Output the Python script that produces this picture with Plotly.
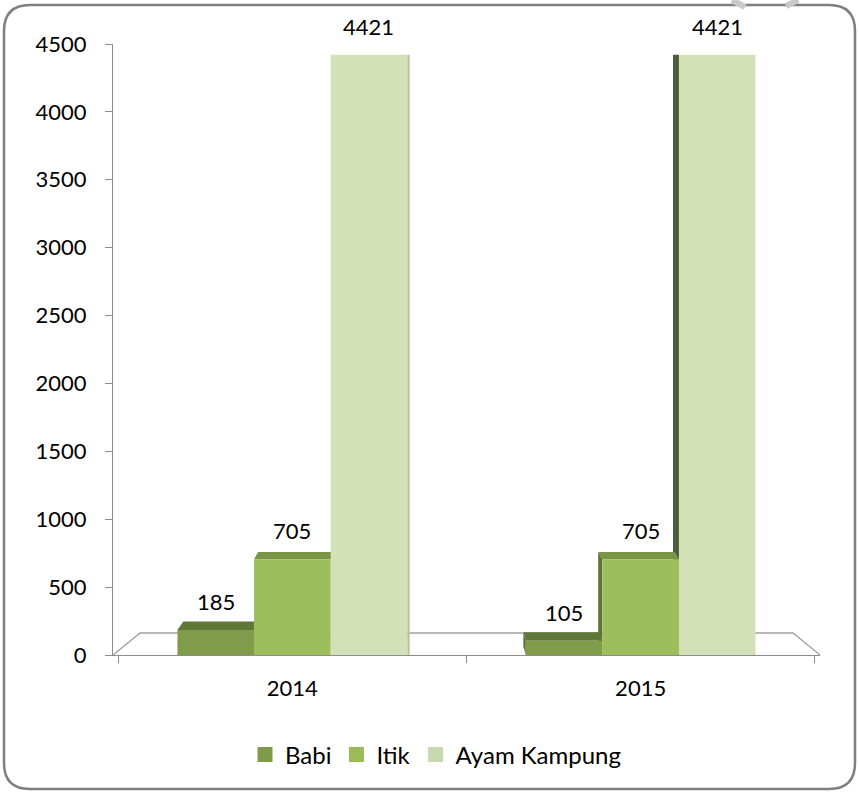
import plotly.graph_objects as go

# ---- data ----
years = ["2014", "2015"]
series_names = ["Babi", "Itik", "Ayam Kampung"]
babi = [185, 105]
itik = [705, 705]
ayam_kampung = [4421, 4421]
y_tick_values = [0, 500, 1000, 1500, 2000, 2500, 3000, 3500, 4000, 4500]

series_values = [babi, itik, ayam_kampung]

# ---- styles ----
front_colors = ["#809b49", "#9dbf5b", "#d3e1b8"]
legend_colors = ["#7f9a48", "#9bbb59", "#c8d8b0"]
top_colors = ["#5f7737", "#7a9545", "#bccba3"]
left_side_colors = ["#56692f", "#5d7332", "#4d5a3e"]
right_side_colors = ["#6e8540", "#88a64f", "#b4c39a"]
FONT = "Lato"

W, H = 859, 792
ML, MR, MT, MB = 113, 39, 44, 137
PW = W - ML - MR
PH = H - MT - MB
YMAX = 4500
BARGAP = 0.34
XR = [-0.515, 1.515]
bw = (1 - BARGAP) / 3            # bar width in category units
px_per_y = PH / YMAX


def px2paper(px, py):
    return (px - ML) / PW, (H - MB - py) / PH


fig = go.Figure()
for name, vals, col in zip(series_names, series_values, front_colors):
    fig.add_trace(go.Bar(x=years, y=vals, name=name, marker_color=col,
                         marker_line_width=0, hoverinfo="x+y+name",
                         showlegend=False))
# legend swatches
for name, col in zip(series_names, legend_colors):
    fig.add_trace(go.Scatter(x=[None], y=[None], mode="markers", name=name,
                             marker=dict(symbol="square", size=15, color=col),
                             showlegend=True, hoverinfo="skip"))

shapes = []
# floor (3D base)
floor_pts = [(113, 655), (140, 633), (793, 633), (820, 655)]
fp = [px2paper(*p) for p in floor_pts]
shapes.append(dict(type="path", xref="paper", yref="paper", layer="below",
                   path="M{},{} L{},{} L{},{} L{},{}".format(
                       fp[0][0], fp[0][1], fp[1][0], fp[1][1],
                       fp[2][0], fp[2][1], fp[3][0], fp[3][1]),
                   line=dict(color="#a0a0a0", width=1.3)))

# 3D faces derived from the data values
side_shapes, top_shapes = [], []
for i in range(len(years)):
    for j, vals in enumerate(series_values):
        v = vals[i]
        xc = i + (j - 1) * bw
        x0, x1 = xc - bw / 2, xc + bw / 2
        dx = -(xc - 0.5) * 0.0237
        top_px = PH - v * px_per_y
        dy = max(top_px - 16, 0) * 0.0145 / px_per_y
        top_shapes.append(dict(
            type="path", xref="x", yref="y", layer="below",
            path=f"M{x0},{v} L{x1},{v} L{x1+dx},{v+dy} L{x0+dx},{v+dy} Z",
            fillcolor=top_colors[j], line=dict(width=0)))
        if dx > 0:
            xs, scol = x1, right_side_colors[j]
        else:
            xs, scol = x0, left_side_colors[j]
        side_shapes.append(dict(
            type="path", xref="x", yref="y", layer="below",
            path=f"M{xs},0 L{xs},{v} L{xs+dx},{v+dy} L{xs+dx},{dy} Z",
            fillcolor=scol, line=dict(width=0)))
shapes += side_shapes + top_shapes

# rounded chart border
L, R, T, B, r = 4, 855, 5, 789, 26
pts = {
    "a": px2paper(L + r, T), "b": px2paper(R - r, T), "c": px2paper(R, T),
    "d": px2paper(R, T + r), "e": px2paper(R, B - r), "f": px2paper(R, B),
    "g": px2paper(R - r, B), "h": px2paper(L + r, B), "i": px2paper(L, B),
    "j": px2paper(L, B - r), "k": px2paper(L, T + r), "l": px2paper(L, T),
}
P = lambda k: f"{pts[k][0]},{pts[k][1]}"
border_path = (f"M{P('a')} L{P('b')} Q{P('c')} {P('d')} L{P('e')} Q{P('f')} {P('g')} "
               f"L{P('h')} Q{P('i')} {P('j')} L{P('k')} Q{P('l')} {P('a')} Z")
shapes.append(dict(type="path", xref="paper", yref="paper", path=border_path,
                   line=dict(color="#7f7f7f", width=2.5), layer="above"))

# small grey page fragments at top right
for (ax, ay), (bx, by) in [((732, 0), (745, 7)), ((798, 0), (786, 6))]:
    p0, p1 = px2paper(ax, ay), px2paper(bx, by)
    shapes.append(dict(type="line", xref="paper", yref="paper",
                       x0=p0[0], y0=p0[1], x1=p1[0], y1=p1[1],
                       line=dict(color="#c9c9c9", width=6)))

annotations = []
for i in range(len(years)):
    for j, vals in enumerate(series_values):
        annotations.append(dict(x=i + (j - 1) * bw, y=vals[i], xref="x", yref="y",
                                text=str(vals[i]), showarrow=False,
                                yanchor="bottom", yshift=13,
                                font=dict(family=FONT, size=22, color="#000000")))

fig.update_layout(
    width=W, height=H,
    margin=dict(l=ML, r=MR, t=MT, b=MB),
    paper_bgcolor="white", plot_bgcolor="rgba(0,0,0,0)",
    barmode="group", bargap=BARGAP, bargroupgap=0,
    font=dict(family=FONT, size=22, color="#000000"),
    shapes=shapes, annotations=annotations,
    showlegend=True,
    legend=dict(orientation="h", xref="container", yref="container",
                x=0.507, y=1 - 755 / H, xanchor="center", yanchor="middle",
                font=dict(family=FONT, size=24, color="#000000"),
                itemwidth=30, traceorder="normal"),
    xaxis=dict(type="category", range=XR, showline=True, linecolor="#8c8c8c",
               linewidth=1.3, ticks="outside", tickson="boundaries", ticklen=7,
               tickcolor="#8c8c8c", tickwidth=1.3, showgrid=False, zeroline=False,
               tickfont=dict(family=FONT, size=22, color="#000000"),
               ticklabelstandoff=13),
    yaxis=dict(range=[0, YMAX], tickvals=y_tick_values, showline=True,
               linecolor="#8c8c8c", linewidth=1.3, ticks="outside", ticklen=7,
               tickcolor="#8c8c8c", tickwidth=1.3, showgrid=False, zeroline=False,
               tickfont=dict(family=FONT, size=22, color="#000000"),
               ticklabelstandoff=14),
)

fig.write_html("out.html",
               config={"displayModeBar": False},
               post_script="document.body.style.margin='0';"
                           "document.body.style.overflow='hidden';")
